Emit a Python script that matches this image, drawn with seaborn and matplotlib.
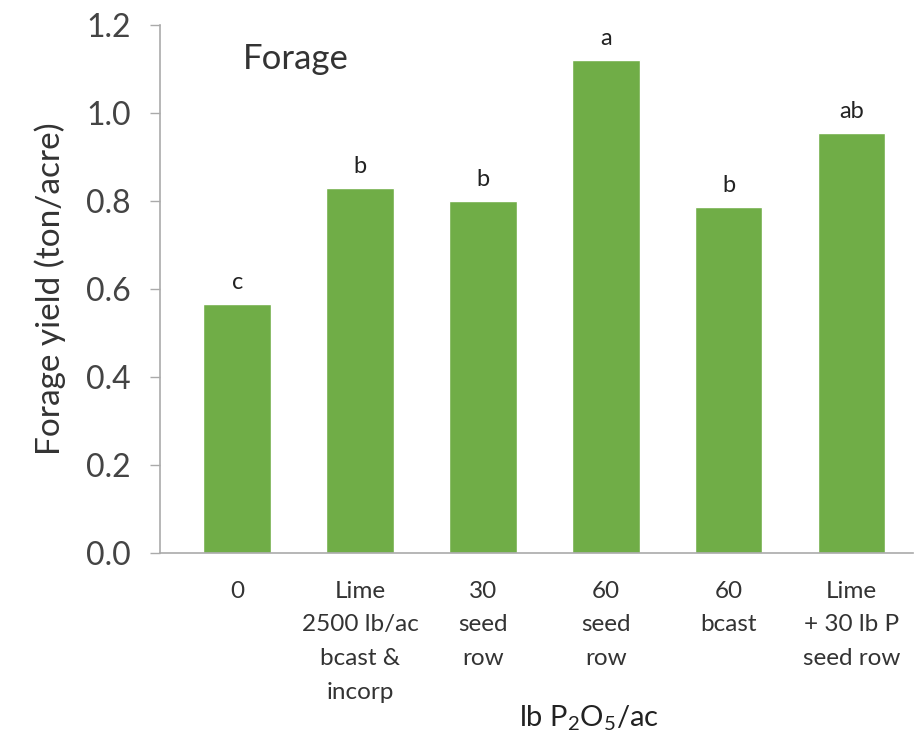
import numpy as np
import pandas as pd
import matplotlib
matplotlib.use('Agg')
import matplotlib.pyplot as plt
import seaborn as sns

# data
treatments = ['0', 'Lime\n2500 lb/ac\nbcast &\nincorp', '30\nseed\nrow', '60\nseed\nrow',
              '60\nbcast', 'Lime\n+ 30 lb P\nseed row']
yields = [0.565, 0.83, 0.80, 1.12, 0.785, 0.955]
letters = ['c', 'b', 'b', 'a', 'b', 'ab']

df = pd.DataFrame({'treatment': treatments, 'yield': yields})

sns.set_theme(style='white')
plt.rcParams['font.family'] = ['Lato', 'DejaVu Sans']
plt.rcParams['mathtext.default'] = 'regular'

fig = plt.figure(figsize=(9.24, 7.48), dpi=100)
ax = fig.add_axes([0.173, 0.261, 0.815, 0.706])

sns.barplot(data=df, x='treatment', y='yield', color='#70AD47', saturation=1,
            width=0.55, ax=ax)

# significance letters
for i, (v, l) in enumerate(zip(yields, letters)):
    ax.text(i, v + 0.025, l, ha='center', va='bottom', fontsize=17, color='#222222')

ax.text(0.11, 0.965, 'Forage', transform=ax.transAxes, fontsize=25,
        color='#333333', va='top', ha='left')

ax.set_ylim(0, 1.2)
ax.set_xlim(-0.63, 5.5)
ax.set_yticks(np.arange(0, 1.21, 0.2))
ax.set_yticklabels([f'{t:.1f}' for t in np.arange(0, 1.21, 0.2)], fontsize=23, color='#444444')
ax.tick_params(axis='x', labelsize=17.5, colors='#333333', length=0, pad=20)
ax.tick_params(axis='y', length=7, width=1, color='#aaaaaa', left=True, pad=14)
for lbl in ax.get_xticklabels():
    lbl.set_linespacing(1.75)
    lbl.set_va('top')

ax.set_ylabel('Forage yield (ton/acre)', fontsize=24, color='#333333', labelpad=14)
ax.set_xlabel('lb P$_2$O$_5$/ac', fontsize=21, color='#222222')
ax.xaxis.set_label_coords(0.57, -0.285)

sns.despine(ax=ax)
for s in ['left', 'bottom']:
    ax.spines[s].set_color('#aaaaaa')
    ax.spines[s].set_linewidth(1.2)

fig.savefig('out.png', dpi=100)
